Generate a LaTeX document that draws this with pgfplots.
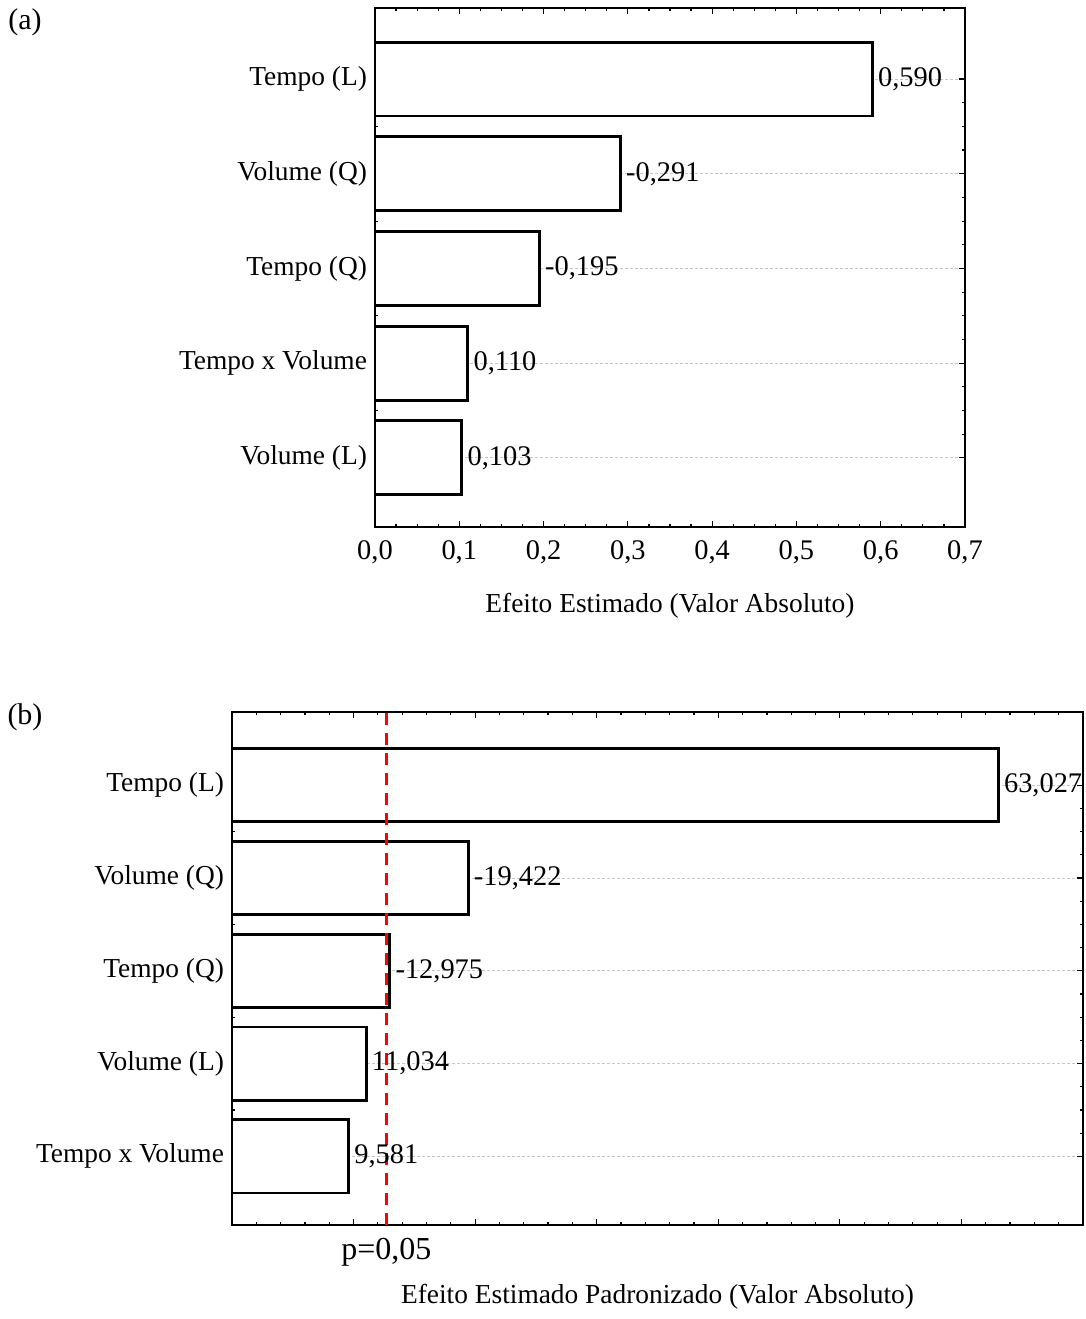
\documentclass[border=0pt]{standalone}
\usepackage{fontspec}
\setmainfont{Liberation Serif}
\usepackage{pgfplots}
\pgfplotsset{compat=1.18}
\begin{document}
\begin{tikzpicture}
\useasboundingbox (0,0) rectangle (543pt,-659.5pt);
\pgfplotsset{
 effstyle/.style={
  scale only axis,
  axis line style={line width=0.9pt},
  tick style={black, line width=0.6pt},
  major tick length=2.8pt, minor tick length=1.6pt,
  ytick={0,1,2,3,4},
  minor y tick num=3,
  ymajorgrids,
  major grid style={gray!45, line width=0.4pt, dash pattern=on 1.5pt off 1pt},
  yticklabel style={font=\fontsize{13.7}{16}\selectfont, xshift=-0.5pt},
  clip=false,
 },
 barstyle/.style={xbar, bar width=#1, fill=white, draw=black, line width=1.45pt,
  nodes near coords, point meta=explicit symbolic,
  nodes near coords style={anchor=west, font=\fontsize{14.2}{16}\selectfont, inner sep=1pt, xshift=1.2pt, black}},
}
\begin{axis}[effstyle, at={(187.5pt,-4pt)}, anchor=north west,
  width=295pt, height=259.5pt,
  xmin=0, xmax=0.7, ymin=-0.73, ymax=4.75,
  xtick={0,0.1,0.2,0.3,0.4,0.5,0.6,0.7}, minor x tick num=3,
  yticklabels={Volume (L), Tempo x Volume, Tempo (Q), Volume (Q), Tempo (L)},
  xticklabel style={font=\fontsize{14.2}{16}\selectfont, yshift=-3.5pt,
    /pgf/number format/.cd, fixed, fixed zerofill, precision=1, use comma, assume math mode=true},
  xlabel={Efeito Estimado (Valor Absoluto)},
  xlabel style={font=\fontsize{13.7}{16}\selectfont, at={(axis description cs:0.5,0)}, anchor=center, yshift=-39.5pt}]
\addplot[barstyle=0.78] coordinates {(0.103,0) [0,103] (0.110,1) [0,110] (0.195,2) [-0,195] (0.291,3) [-0,291] (0.590,4) [0,590]};
\end{axis}
\begin{axis}[effstyle, at={(116pt,-356pt)}, anchor=north west,
  width=425.5pt, height=256.5pt,
  xmin=0, xmax=70, ymin=-0.74, ymax=4.79,
  xtick={0,10,20,30,40,50,60,70}, minor x tick num=4, xticklabels={},
  extra x ticks={12.706}, extra x tick labels={p=0{,}05},
  extra x tick style={major tick length=0pt, xticklabel style={font=\fontsize{16}{18}\selectfont, yshift=-3pt}},
  yticklabels={Tempo x Volume, Volume (L), Tempo (Q), Volume (Q), Tempo (L)},
  xlabel={Efeito Estimado Padronizado (Valor Absoluto)},
  xlabel style={font=\fontsize{13.7}{16}\selectfont, at={(axis description cs:0.5,0)}, anchor=center, yshift=-36pt}]
\addplot[barstyle=0.79] coordinates {(9.581,0) [9,581] (11.034,1) [11,034] (12.975,2) [-12,975] (19.422,3) [-19,422] (63.027,4) [63,027]};
\addplot[red, line width=1.4pt, dash pattern=on 6pt off 4pt, no markers, forget plot] coordinates {(12.706,-0.74) (12.706,4.79)};
\end{axis}
\node[font=\fontsize{15}{18}\selectfont] at (12.5pt,-11pt) {(a)};
\node[font=\fontsize{15}{18}\selectfont] at (12.5pt,-358.5pt) {(b)};
\end{tikzpicture}
\end{document}
